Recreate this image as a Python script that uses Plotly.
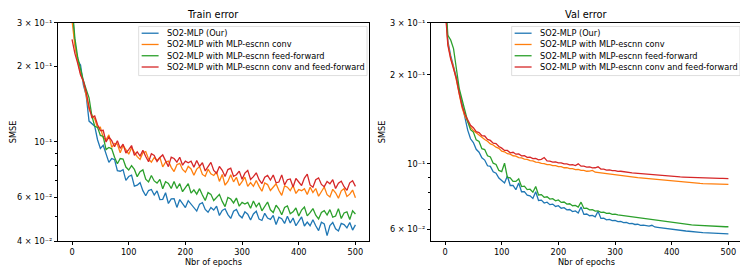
import math
import plotly.graph_objects as go

# ---------------- data ----------------
epochs = list(range(0, 501, 5))

series_names = [
    "SO2-MLP (Our)",
    "SO2-MLP with MLP-escnn conv",
    "SO2-MLP with MLP-escnn feed-forward",
    "SO2-MLP with MLP-escnn conv and feed-forward",
]
series_colors = ["#1f77b4", "#ff7f0e", "#2ca02c", "#d62728"]

train_blue = [
    0.340, 0.250, 0.211, 0.203, 0.169, 0.153, 0.121, 0.118, 0.1155, 0.1019,
    0.0941, 0.0968, 0.0900, 0.0827, 0.0857, 0.0848, 0.0766, 0.0762, 0.0773, 0.0701,
    0.0726, 0.0735, 0.0664, 0.0670, 0.0686, 0.0637, 0.0608, 0.0638, 0.0644, 0.0612,
    0.0636, 0.0587, 0.0588, 0.0625, 0.0566, 0.0591, 0.0592, 0.0546, 0.0587, 0.0566,
    0.0545, 0.0581, 0.0562, 0.0542, 0.0528, 0.0563, 0.0571, 0.0536, 0.0522, 0.0546,
    0.0533, 0.0552, 0.0507, 0.0531, 0.0539, 0.0511, 0.0493, 0.0527, 0.0536, 0.0508,
    0.0496, 0.0524, 0.0513, 0.0486, 0.0514, 0.0527, 0.0490, 0.0484, 0.0517, 0.0495,
    0.0489, 0.0507, 0.0466, 0.0499, 0.0492, 0.0471, 0.0503, 0.0473, 0.0495, 0.0461,
    0.0478, 0.0500, 0.0460, 0.0477, 0.0461, 0.0487, 0.0461, 0.0441, 0.0476, 0.0469,
    0.0421, 0.0462, 0.0475, 0.0448, 0.0439, 0.0471, 0.0466, 0.0452, 0.0475, 0.0443,
    0.0465,
]
train_orange = [
    0.306, 0.243, 0.210, 0.188, 0.174, 0.151, 0.135, 0.128, 0.1236, 0.1139,
    0.1144, 0.1038, 0.1019, 0.1066, 0.0950, 0.0985, 0.0979, 0.0903, 0.0968, 0.0930,
    0.0892, 0.0946, 0.0909, 0.0872, 0.0850, 0.0904, 0.0914, 0.0853, 0.0829, 0.0865,
    0.0840, 0.0866, 0.0793, 0.0828, 0.0837, 0.0790, 0.0760, 0.0810, 0.0820, 0.0775,
    0.0755, 0.0797, 0.0778, 0.0735, 0.0777, 0.0796, 0.0740, 0.0728, 0.0777, 0.0744,
    0.0733, 0.0757, 0.0694, 0.0740, 0.0670, 0.0694, 0.0738, 0.0691, 0.0721, 0.0668,
    0.0692, 0.0722, 0.0663, 0.0687, 0.0663, 0.0700, 0.0663, 0.0634, 0.0684, 0.0674,
    0.0638, 0.0662, 0.0679, 0.0638, 0.0610, 0.0666, 0.0658, 0.0637, 0.0668, 0.0621,
    0.0644, 0.0637, 0.0649, 0.0615, 0.0658, 0.0626, 0.0650, 0.0605, 0.0635, 0.0659,
    0.0614, 0.0601, 0.0645, 0.0625, 0.0594, 0.0636, 0.0649, 0.0604, 0.0617, 0.0641,
    0.0597,
]
train_green = [
    0.356, 0.260, 0.218, 0.194, 0.176, 0.162, 0.150, 0.127, 0.1154, 0.1142,
    0.1060, 0.1050, 0.0931, 0.0949, 0.0937, 0.0867, 0.0817, 0.0857, 0.0853, 0.0792,
    0.0771, 0.0803, 0.0775, 0.0725, 0.0759, 0.0772, 0.0708, 0.0691, 0.0733, 0.0697,
    0.0683, 0.0707, 0.0648, 0.0692, 0.0681, 0.0650, 0.0694, 0.0650, 0.0680, 0.0631,
    0.0654, 0.0680, 0.0623, 0.0642, 0.0617, 0.0649, 0.0612, 0.0582, 0.0626, 0.0616,
    0.0582, 0.0602, 0.0616, 0.0577, 0.0550, 0.0599, 0.0590, 0.0569, 0.0595, 0.0552,
    0.0572, 0.0563, 0.0572, 0.0542, 0.0579, 0.0549, 0.0570, 0.0529, 0.0554, 0.0574,
    0.0534, 0.0521, 0.0557, 0.0539, 0.0510, 0.0546, 0.0554, 0.0515, 0.0524, 0.0543,
    0.0504, 0.0533, 0.0548, 0.0505, 0.0520, 0.0540, 0.0508, 0.0491, 0.0521, 0.0530,
    0.0509, 0.0535, 0.0499, 0.0504, 0.0540, 0.0493, 0.0519, 0.0524, 0.0488, 0.0529,
    0.0514,
]
train_red = [
    0.257, 0.226, 0.206, 0.185, 0.175, 0.158, 0.138, 0.125, 0.1269, 0.1170,
    0.1109, 0.1112, 0.0998, 0.1046, 0.1010, 0.0955, 0.1009, 0.0941, 0.0979, 0.0902,
    0.0930, 0.0966, 0.0883, 0.0911, 0.0877, 0.0924, 0.0873, 0.0832, 0.0896, 0.0882,
    0.0834, 0.0865, 0.0886, 0.0832, 0.0795, 0.0868, 0.0857, 0.0829, 0.0867, 0.0806,
    0.0836, 0.0824, 0.0836, 0.0791, 0.0842, 0.0797, 0.0824, 0.0764, 0.0800, 0.0827,
    0.0768, 0.0748, 0.0797, 0.0769, 0.0726, 0.0774, 0.0784, 0.0727, 0.0738, 0.0763,
    0.0708, 0.0749, 0.0768, 0.0706, 0.0725, 0.0751, 0.0705, 0.0680, 0.0721, 0.0733,
    0.0703, 0.0736, 0.0685, 0.0690, 0.0737, 0.0672, 0.0705, 0.0710, 0.0659, 0.0713,
    0.0690, 0.0668, 0.0716, 0.0742, 0.0672, 0.0658, 0.0705, 0.0717, 0.0675, 0.0661,
    0.0694, 0.0679, 0.0705, 0.0650, 0.0683, 0.0695, 0.0661, 0.0639, 0.0685, 0.0698,
    0.0663,
]

val_blue = [
    0.360, 0.260, 0.232, 0.214, 0.196, 0.176, 0.158, 0.142, 0.130, 0.1215,
    0.1180, 0.1120, 0.1095, 0.1048, 0.1030, 0.0985, 0.0980, 0.0940, 0.0930, 0.0895,
    0.0880, 0.0862, 0.0910, 0.0845, 0.0845, 0.0818, 0.0862, 0.0805, 0.0806, 0.0784,
    0.0780, 0.0764, 0.0805, 0.0752, 0.0754, 0.0737, 0.0742, 0.0728, 0.0731, 0.0718,
    0.0722, 0.0708, 0.0711, 0.0699, 0.0701, 0.0690, 0.0693, 0.0682, 0.0715, 0.0675,
    0.0677, 0.0668, 0.0670, 0.0662, 0.0692, 0.0654, 0.0655, 0.0647, 0.0649, 0.0643,
    0.0644, 0.0638, 0.0639, 0.0633, 0.0634, 0.0628, 0.0629, 0.0624, 0.0625, 0.0620,
    0.0621, 0.0618, 0.0616, 0.0620, 0.0612, 0.0610, 0.0608, 0.0606, 0.0604, 0.0602,
    0.0600, 0.0598, 0.0597, 0.0595, 0.0594, 0.0593, 0.0592, 0.0590, 0.0589, 0.0588,
    0.0587, 0.0586, 0.0585, 0.0584, 0.0584, 0.0583, 0.0582, 0.0582, 0.0581, 0.0581,
    0.0580,
]
val_orange = [
    0.350, 0.255, 0.228, 0.212, 0.192, 0.171, 0.155, 0.145, 0.138, 0.133,
    0.1295, 0.1272, 0.1248, 0.1232, 0.1208, 0.1192, 0.1168, 0.1158, 0.1138, 0.1128,
    0.1103, 0.1098, 0.1082, 0.1078, 0.1065, 0.1062, 0.1050, 0.1047, 0.1038, 0.1036,
    0.1026, 0.1024, 0.1014, 0.1012, 0.1003, 0.1002, 0.0994, 0.0994, 0.0986, 0.0986,
    0.0978, 0.0978, 0.0970, 0.0970, 0.0963, 0.0964, 0.0956, 0.0957, 0.0950, 0.0951,
    0.0944, 0.0945, 0.0950, 0.0937, 0.0934, 0.0931, 0.0928, 0.0926, 0.0923, 0.0920,
    0.0918, 0.0915, 0.0913, 0.0910, 0.0908, 0.0905, 0.0903, 0.0900, 0.0898, 0.0896,
    0.0894, 0.0892, 0.0890, 0.0888, 0.0886, 0.0884, 0.0882, 0.0880, 0.0878, 0.0876,
    0.0874, 0.0872, 0.0870, 0.0868, 0.0867, 0.0865, 0.0864, 0.0862, 0.0861, 0.0860,
    0.0859, 0.0858, 0.0857, 0.0856, 0.0855, 0.0855, 0.0854, 0.0854, 0.0853, 0.0853,
    0.0853,
]
val_green = [
    0.380, 0.272, 0.262, 0.245, 0.210, 0.180, 0.165, 0.150, 0.139, 0.1305,
    0.1280, 0.1205, 0.1190, 0.1125, 0.1118, 0.1065, 0.1055, 0.1005, 0.0995, 0.0950,
    0.0942, 0.1005, 0.0900, 0.0896, 0.0872, 0.0872, 0.0890, 0.0838, 0.0841, 0.0818,
    0.0821, 0.0802, 0.0838, 0.0785, 0.0787, 0.0771, 0.0774, 0.0760, 0.0763, 0.0750,
    0.0755, 0.0741, 0.0743, 0.0731, 0.0733, 0.0722, 0.0724, 0.0714, 0.0742, 0.0707,
    0.0708, 0.0699, 0.0700, 0.0692, 0.0694, 0.0686, 0.0687, 0.0680, 0.0681, 0.0675,
    0.0676, 0.0672, 0.0670, 0.0667, 0.0665, 0.0662, 0.0660, 0.0658, 0.0656, 0.0654,
    0.0652, 0.0650, 0.0648, 0.0646, 0.0644, 0.0642, 0.0640, 0.0638, 0.0636, 0.0634,
    0.0632, 0.0630, 0.0629, 0.0627, 0.0626, 0.0624, 0.0623, 0.0622, 0.0621, 0.0620,
    0.0619, 0.0618, 0.0617, 0.0616, 0.0616, 0.0615, 0.0615, 0.0614, 0.0614, 0.0613,
    0.0613,
]
val_red = [
    0.340, 0.252, 0.226, 0.211, 0.194, 0.173, 0.157, 0.147, 0.140, 0.135,
    0.1325, 0.1285, 0.1275, 0.1245, 0.1242, 0.1210, 0.1200, 0.1175, 0.1170, 0.1145,
    0.1130, 0.1110, 0.1110, 0.1090, 0.1094, 0.1078, 0.1080, 0.1064, 0.1066, 0.1052,
    0.1054, 0.1041, 0.1044, 0.1032, 0.1035, 0.1050, 0.1023, 0.1022, 0.1013, 0.1015,
    0.1007, 0.1008, 0.0999, 0.1000, 0.0992, 0.0994, 0.0987, 0.1000, 0.0982, 0.0982,
    0.0975, 0.0976, 0.0969, 0.0970, 0.0977, 0.0960, 0.0960, 0.0953, 0.0954, 0.0948,
    0.0949, 0.0943, 0.0944, 0.0940, 0.0937, 0.0935, 0.0932, 0.0930, 0.0928, 0.0926,
    0.0924, 0.0922, 0.0920, 0.0918, 0.0916, 0.0914, 0.0912, 0.0911, 0.0910, 0.0908,
    0.0907, 0.0906, 0.0905, 0.0903, 0.0902, 0.0901, 0.0900, 0.0899, 0.0898, 0.0897,
    0.0897, 0.0896, 0.0895, 0.0895, 0.0894, 0.0894, 0.0893, 0.0893, 0.0893, 0.0892,
    0.0892,
]

train_series = [train_blue, train_orange, train_green, train_red]
val_series = [val_blue, val_orange, val_green, val_red]

x_ticks = [0, 100, 200, 300, 400, 500]
train_yticks = [0.04, 0.06, 0.1, 0.2, 0.3]
train_ytext = ["4 × 10⁻²", "6 × 10⁻²", "10⁻¹", "2 × 10⁻¹", "3 × 10⁻¹"]
train_minor = [0.05, 0.07, 0.08, 0.09]
val_yticks = [0.06, 0.1, 0.2, 0.3]
val_ytext = ["6 × 10⁻²", "10⁻¹", "2 × 10⁻¹", "3 × 10⁻¹"]
val_minor = [0.07, 0.08, 0.09]

# ---------------- figure ----------------
# the page body keeps an 8 px margin, so the figure is 8 px smaller on each side
OFF = 8
W, H = 748 - OFF, 276 - OFF
FONT = "DejaVu Sans"
fig = go.Figure()

for ys, c, n in zip(train_series, series_colors, series_names):
    fig.add_trace(go.Scatter(x=epochs, y=ys, mode="lines", name=n,
                             line=dict(color=c, width=1.3), showlegend=False,
                             xaxis="x", yaxis="y"))
for ys, c, n in zip(val_series, series_colors, series_names):
    fig.add_trace(go.Scatter(x=epochs, y=ys, mode="lines", name=n,
                             line=dict(color=c, width=1.3), showlegend=False,
                             xaxis="x2", yaxis="y2"))


def px(v):
    return (v - OFF) / W


def py(v):
    return 1 - (v - OFF) / H


axis_common = dict(showline=True, mirror=True, linecolor="#000", linewidth=0.8,
                   ticks="outside", ticklen=3, tickwidth=0.8, tickcolor="#000",
                   showgrid=False, zeroline=False,
                   tickfont=dict(family=FONT, size=8.2, color="#000"))

fig.update_layout(
    width=W, height=H,
    margin=dict(l=0, r=0, t=0, b=0),
    paper_bgcolor="white", plot_bgcolor="white",
    font=dict(family=FONT, size=8.2, color="#000"),
    xaxis=dict(domain=[px(56), px(368)], range=[-25, 524], tickvals=x_ticks,
               title=dict(text="Nbr of epochs", standoff=2,
                          font=dict(family=FONT, size=8.2)),
               anchor="y", **axis_common),
    yaxis=dict(domain=[py(245), py(18)], type="log",
               range=[math.log10(0.04), math.log10(0.3)],
               tickvals=train_yticks, ticktext=train_ytext,
               minor=dict(tickvals=train_minor, ticklen=2, tickwidth=0.6,
                          tickcolor="#000", ticks="outside"),
               title=dict(text="SMSE", standoff=3,
                          font=dict(family=FONT, size=8.2)),
               anchor="x", **axis_common),
    xaxis2=dict(domain=[px(430), px(742)], range=[-25, 524], tickvals=x_ticks,
                title=dict(text="Nbr of epochs", standoff=2,
                           font=dict(family=FONT, size=8.2)),
                anchor="y2", **axis_common),
    yaxis2=dict(domain=[py(245), py(18)], type="log",
                range=[math.log10(0.0548), math.log10(0.3)],
                tickvals=val_yticks, ticktext=val_ytext,
                minor=dict(tickvals=val_minor, ticklen=2, tickwidth=0.6,
                           tickcolor="#000", ticks="outside"),
                title=dict(text="SMSE", standoff=3,
                           font=dict(family=FONT, size=8.2)),
                anchor="x2", **axis_common),
)

shapes = []
annotations = []
titles = ["Train error", "Val error"]
for k, off in enumerate([0, 374]):
    annotations.append(dict(text=titles[k], xref="paper", yref="paper",
                            x=px(off + 212), y=py(10), xanchor="center", yanchor="middle",
                            showarrow=False, font=dict(family=FONT, size=9.8, color="#000")))
    shapes.append(dict(type="rect", xref="paper", yref="paper",
                       x0=px(off + 137), x1=px(off + 366), y0=py(73), y1=py(22),
                       line=dict(color="#d5d5d5", width=0.8),
                       fillcolor="rgba(255,255,255,0.8)", layer="above"))
    rows = [29, 40.7, 52.4, 64.1]
    for n, c, r in zip(series_names, series_colors, rows):
        shapes.append(dict(type="line", xref="paper", yref="paper",
                           x0=px(off + 140), x1=px(off + 157), y0=py(r), y1=py(r),
                           line=dict(color=c, width=1.3), layer="above"))
        annotations.append(dict(text=n, xref="paper", yref="paper",
                                x=px(off + 163), y=py(r), xanchor="left", yanchor="middle",
                                showarrow=False,
                                font=dict(family=FONT, size=8.2, color="#000")))

fig.update_layout(shapes=shapes, annotations=annotations)
fig.write_html("out.html")
